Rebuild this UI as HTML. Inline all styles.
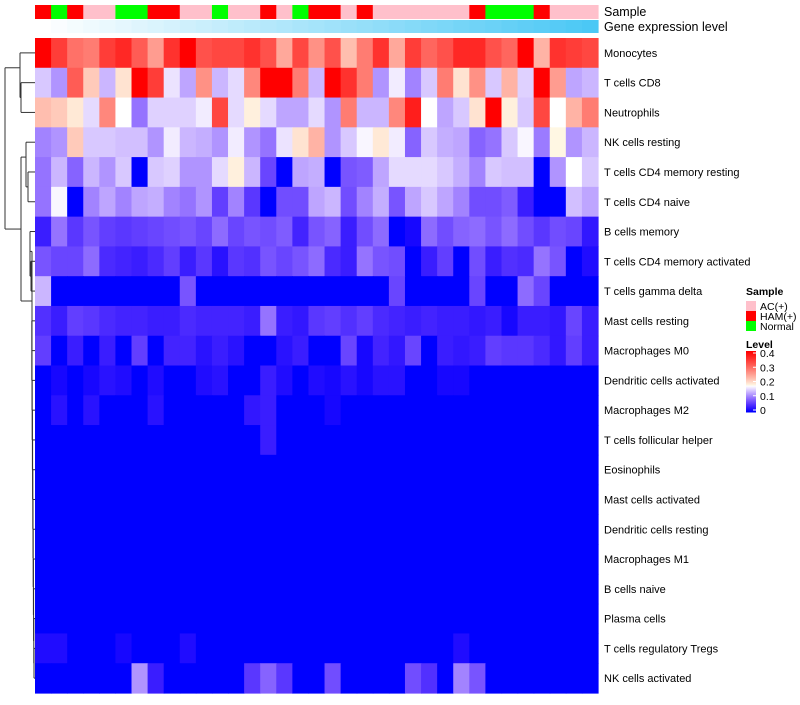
<!DOCTYPE html>
<html><head><meta charset="utf-8"><style>
body{margin:0;background:#fff;width:800px;height:700px;overflow:hidden;font-family:"Liberation Sans",sans-serif}
svg text{font-family:"Liberation Sans",sans-serif}
</style></head><body>
<svg id="chart" width="800" height="700" xmlns="http://www.w3.org/2000/svg">
<g id="dendro" stroke="#333" stroke-width="1" fill="none"></g>
<g id="cells"></g>
<g id="annot"></g>
<g id="labels" font-size="11" fill="#000"></g>
<text x="604" y="16" font-size="12.5">Sample</text>
<text x="604" y="31" font-size="12.5">Gene expression level</text>
<g id="legend"></g>
</svg>
<script>
const rowNames=["Monocytes","T cells CD8","Neutrophils","NK cells resting","T cells CD4 memory resting","T cells CD4 naive","B cells memory","T cells CD4 memory activated","T cells gamma delta","Mast cells resting","Macrophages M0","Dendritic cells activated","Macrophages M2","T cells follicular helper","Eosinophils","Mast cells activated","Dendritic cells resting","Macrophages M1","B cells naive","Plasma cells","T cells regulatory  Tregs","NK cells activated"];
const sampleGroups=["HAM","Normal","HAM","AC","AC","Normal","Normal","HAM","HAM","AC","AC","Normal","AC","AC","HAM","AC","Normal","HAM","HAM","AC","HAM","AC","AC","AC","AC","AC","AC","HAM","Normal","Normal","Normal","HAM","AC","AC","AC"];
const legendTicks=[0.4,0.3,0.2,0.1,0];
const r0=[.4,.34,.29,.28,.34,.36,.31,.25,.35,.4,.32,.33,.33,.35,.32,.24,.33,.26,.32,.22,.28,.35,.24,.34,.3,.32,.36,.36,.32,.3,.4,.23,.35,.34,.33];
const r1=[.14,.11,.31,.21,.13,.19,.4,.34,.155,.12,.26,.13,.15,.27,.4,.4,.28,.13,.4,.35,.28,.11,.16,.1,.14,.28,.19,.26,.14,.23,.145,.4,.25,.12,.13];
const r2=[.22,.21,.185,.15,.27,.17,.09,.145,.145,.145,.16,.33,.15,.18,.15,.12,.12,.15,.11,.28,.13,.13,.27,.37,.17,.12,.14,.19,.4,.18,.14,.33,.17,.23,.28];
const r3=[.1,.11,.21,.14,.14,.135,.135,.11,.16,.13,.125,.11,.16,.11,.09,.155,.19,.23,.11,.14,.165,.185,.16,.08,.14,.125,.12,.08,.09,.14,.165,.095,.175,.11,.13];
const r4=[.09,.13,.08,.13,.11,.14,0,.14,.145,.11,.11,.15,.18,.13,.06,0,.12,.125,0,.07,.075,.12,.15,.15,.15,.14,.125,.1,.14,.135,.135,0,.11,.17,.14];
const r5=[.09,.165,0,.1,.12,.1,.12,.125,.1,.09,.11,.055,.1,.05,0,.065,.065,.12,.13,.065,.1,.125,.07,.12,.14,.12,.1,.065,.065,.075,.03,0,0,.135,.12];
const r6=[.03,.09,.05,.07,.055,.05,.055,.06,.065,.07,.06,.085,.06,.07,.065,.075,.035,.07,.08,.03,.065,.085,0,.01,.085,.065,.08,.085,.07,.085,.065,.05,.065,.06,.025];
const r7=[.07,.06,.06,.085,.04,.035,.03,.04,.055,.03,.05,.02,.05,.045,.07,.06,.07,.085,.04,.03,.09,.07,.065,0,.03,.055,0,.065,.03,.045,.04,.09,.07,0,.015];
const r8=[.13,0,0,0,0,0,0,0,0,.07,0,0,0,0,0,0,0,0,0,0,0,0,.06,0,0,0,0,.06,0,0,.085,.06,0,0,0];
const r9=[.045,.03,.055,.05,.04,.035,.035,.03,.03,.04,.035,.035,.035,.03,.09,.03,.025,.05,.055,.045,.055,.04,.035,.03,.035,.03,.03,.025,.03,.01,.03,.03,.025,.06,.03];
const r10=[.055,0,.03,0,.03,0,.055,0,.035,.035,.02,.03,.02,0,0,.02,.03,0,0,.06,.01,.035,.025,.06,0,.03,.025,.03,.055,.05,.05,.04,.025,.055,.03];
const r11=[0,.01,0,.01,.02,.015,0,.015,0,0,.015,.02,0,0,.03,.015,0,.015,.01,.02,.01,.02,.02,0,0,.01,.01,0,0,0,0,0,0,0,0];
const r12=[0,.02,0,.02,0,0,0,.02,0,0,0,0,0,.025,.03,0,0,0,.01,0,0,0,0,0,0,0,0,0,0,0,0,0,0,0,0];
const r13=[0,0,0,0,0,0,0,0,0,0,0,0,0,0,.03,0,0,0,0,0,0,0,0,0,0,0,0,0,0,0,0,0,0,0,0];
const r14=new Array(35).fill(0);
const r15=new Array(35).fill(0);
const r16=new Array(35).fill(0);
const r17=new Array(35).fill(0);
const r18=new Array(35).fill(0);
const r19=new Array(35).fill(0);
const r20=[.015,.015,0,0,0,.01,0,0,0,.015,0,0,0,0,0,0,0,0,0,0,0,0,0,0,0,0,.015,0,0,0,0,0,0,0,0];
const r21=[0,0,0,0,0,0,.11,.03,0,0,0,0,0,.05,.08,.05,0,0,.065,0,0,0,0,.065,.045,0,.1,.07,0,0,0,0,0,0,0];
const values=[r0,r1,r2,r3,r4,r5,r6,r7,r8,r9,r10,r11,r12,r13,r14,r15,r16,r17,r18,r19,r20,r21];

const NS="http://www.w3.org/2000/svg";
const X0=35,X1=598,Y0=38,Y1=693;
const nC=35,nR=22;
const cw=(X1-X0)/nC, rh=(Y1-Y0)/nR;
const xPos=c=>X0+c*cw;
const yPos=r=>Y0+r*rh;
function color(v){
  const mid=0.17;
  if(v<=mid){const t=Math.max(0,v/mid);
    return `rgb(${Math.round(255*Math.pow(t,0.85))},${Math.round(255*Math.pow(t,1.25))},255)`;}
  const s=Math.min(1,(v-mid)/(0.4-mid));
  const g=Math.round(255*(1-Math.pow(s,0.9)));
  return `rgb(255,${g},${Math.round(g*0.92)})`;
}
function mk(tag,attrs){const e=document.createElementNS(NS,tag);for(const k in attrs)e.setAttribute(k,attrs[k]);return e;}
const cells=document.getElementById('cells');
values.forEach((row,r)=>row.forEach((v,c)=>{
  const e=mk('rect',{x:xPos(c),y:yPos(r),width:cw+0.6,height:rh+0.6,fill:color(v)});
  
  
  cells.appendChild(e);
}));
const labels=document.getElementById('labels');
rowNames.forEach((n,r)=>{
  const t=mk('text',{x:604,y:yPos(r)+rh/2+4});t.textContent=n;
  
  
  labels.appendChild(t);
});
const gcol={AC:'#FFC0CB',HAM:'#FF0000',Normal:'#00FF00'};
const annot=document.getElementById('annot');
sampleGroups.forEach((g,c)=>{
  const e=mk('rect',{x:xPos(c),y:5,width:cw+0.6,height:14,fill:gcol[g]});
  
  
  annot.appendChild(e);
  const t=c/(nC-1);
  const e2=mk('rect',{x:xPos(c),y:20,width:cw+0.6,height:13,fill:`rgb(${Math.round(255-180*t)},${Math.round(255-55*t)},${Math.round(255-10*t)})`});
  
  
  annot.appendChild(e2);
});
// dendrogram
const d=document.getElementById('dendro');
const cy=r=>yPos(r)+rh/2;
function seg(x1,y1,x2,y2){d.appendChild(mk('line',{x1,y1,x2,y2}));}
function join(x,ya,yb,xa,xb){seg(x,ya,x,yb);seg(x,ya,xa,ya);seg(x,yb,xb,yb);}
join(21,cy(1),cy(2),35,35);
join(20,cy(0),(cy(1)+cy(2))/2,35,21);
join(28,cy(4),cy(5),35,35);
join(26,cy(3),(cy(4)+cy(5))/2,35,28);
let yb=cy(21),xb=35;
for(let r=20;r>=9;r--){const x=34-(20-r)*0.2;join(x,cy(r),yb,35,xb);yb=(cy(r)+yb)/2;xb=x;}
join(31,cy(7),cy(8),35,35);
join(30,cy(6),(cy(7)+cy(8))/2,35,31);
join(32,(cy(6)+cy(7))/2+5,yb,30,xb);
const yLow=((cy(6)+cy(7))/2+5+yb)/2;
join(21,(cy(3)+cy(4))/2,yLow,26,32);
join(5,(cy(0)+cy(1))/2,((cy(3)+cy(4))/2+yLow)/2,20,21);
// legend
const lg=document.getElementById('legend');
function txt(x,y,s,size,bold,name){const t=mk('text',{x,y,'font-size':size});if(bold)t.setAttribute('font-weight','bold');t.textContent=s;lg.appendChild(t);}
txt(746,295,'Sample',10.5,true,'sample-legend-title');
[['AC(+)','AC'],['HAM(+)','HAM'],['Normal','Normal']].forEach(([l,g],i)=>{
  const e=mk('rect',{x:746,y:301+i*10,width:10,height:10,fill:gcol[g]});
  
  
  lg.appendChild(e);
  txt(760,310+i*10,l,10.5,false,'legend-entry-label');
});
txt(746,348,'Level',10.5,true,'level-legend-title');
const gy0=351,gy1=412;
for(let i=0;i<60;i++){const v=0.4*(1-i/59);
  const e=mk('rect',{x:746,y:gy0+i*(gy1-gy0)/60,width:10,height:(gy1-gy0)/60+0.5,fill:color(v)});
  
  
  lg.appendChild(e);}
legendTicks.forEach(v=>{const y=gy0+(0.4-v)/0.4*(gy1-gy0-4)+2;
  const l=mk('line',{x1:753,x2:756,y1:y,y2:y,stroke:'#fff'});lg.appendChild(l);
  txt(760,y+4,String(v),10.5,false,'colorbar-tick-label');});
</script>
</body></html>
